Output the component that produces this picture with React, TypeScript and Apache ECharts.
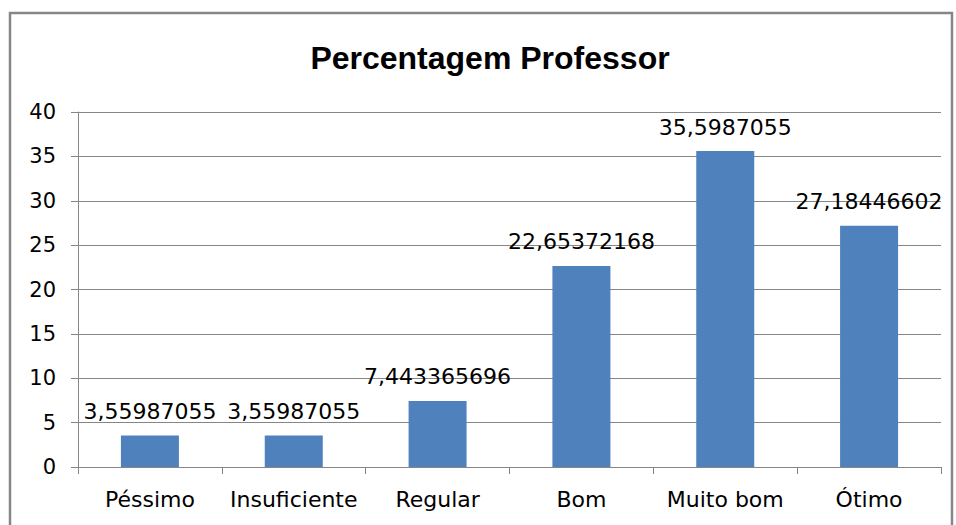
import React, { useEffect, useRef } from "react";
import * as echarts from "echarts";

const categories = ["Péssimo", "Insuficiente", "Regular", "Bom", "Muito bom", "Ótimo"];
const values = [3.55987055, 3.55987055, 7.443365696, 22.65372168, 35.5987055, 27.18446602];
const labelTexts = ["3,55987055", "3,55987055", "7,443365696", "22,65372168", "35,5987055", "27,18446602"];
const titleText = "Percentagem Professor";

export default function App() {
  const ref = useRef<HTMLDivElement>(null);
  useEffect(() => {
    if (!ref.current) return;
    const chart = echarts.init(ref.current, null, { renderer: "svg" });
    const font = "DejaVu Sans";
    chart.setOption({
      animation: false,
      backgroundColor: "#ffffff",
      title: {
        text: titleText,
        left: 485,
        textAlign: "center",
        top: 37,
        textStyle: { fontFamily: "Liberation Sans", fontWeight: "bold", fontSize: 32, color: "#000" },
      },
      graphic: [
        {
          type: "rect",
          shape: { x: 10, y: 13, width: 942, height: 530 },
          style: { fill: "none", stroke: "#868686", lineWidth: 2.5 },
          silent: true,
        },
      ],
      grid: { left: 78, right: 15, top: 112, bottom: 58, containLabel: false },
      xAxis: {
        type: "category",
        data: categories,
        axisLine: { lineStyle: { color: "#868686", width: 1 } },
        axisTick: { show: true, length: 7, lineStyle: { color: "#868686" } },
        axisLabel: { fontFamily: font, fontSize: 22, color: "#000", margin: 21, interval: 0 },
      },
      yAxis: {
        type: "value",
        min: 0,
        max: 40,
        interval: 5,
        axisLine: { show: true, lineStyle: { color: "#868686", width: 1 } },
        axisTick: { show: true, length: 7, lineStyle: { color: "#868686" } },
        splitLine: { lineStyle: { color: "#868686", width: 1 } },
        axisLabel: { fontFamily: font, fontSize: 21, color: "#000", margin: 22 },
      },
      series: [
        {
          type: "bar",
          data: values,
          barWidth: 58,
          itemStyle: { color: "#4F81BD" },
          label: {
            show: true,
            position: "top",
            distance: 13,
            fontFamily: font,
            fontSize: 22,
            color: "#000",
            formatter: (p: any) => labelTexts[p.dataIndex],
          },
        },
      ],
    });
    return () => chart.dispose();
  }, []);
  return (
    <div
      ref={ref}
      style={{ position: "absolute", left: 0, top: 0, width: 956, height: 525 }}
    />
  );
}
